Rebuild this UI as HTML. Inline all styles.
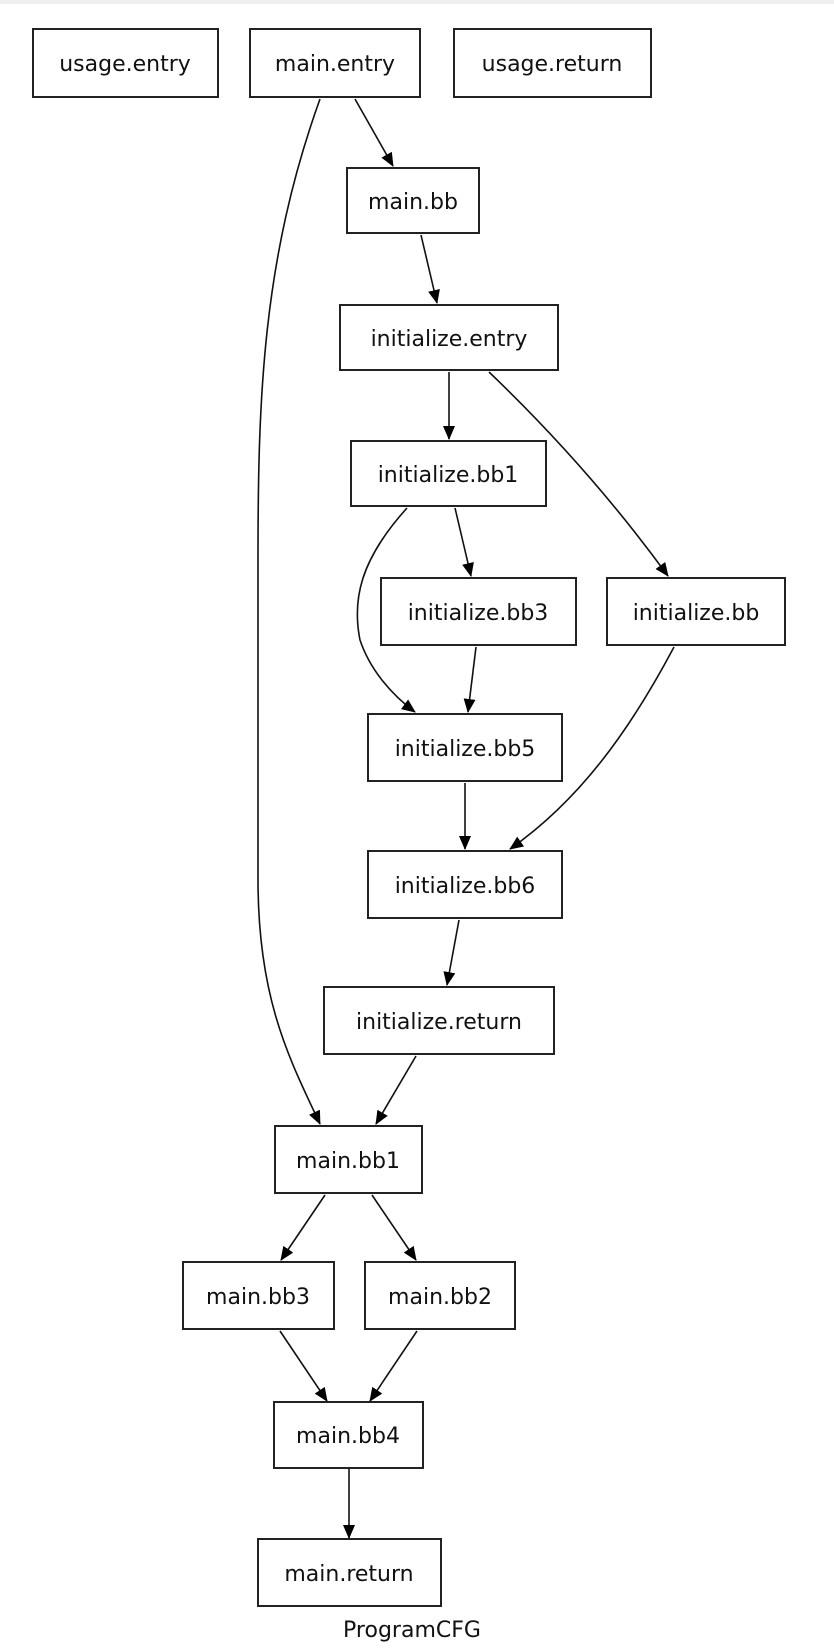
<!DOCTYPE html>
<html><head><meta charset="utf-8"><style>
html,body{margin:0;padding:0;background:#fff;}
svg{display:block;}
text{font-family:"DejaVu Sans","Liberation Sans",sans-serif;font-size:22px;fill:#111;text-anchor:middle;}
rect{fill:#fff;stroke:#222;stroke-width:2;}
path.e{fill:none;stroke:#111;stroke-width:1.6;}
</style></head><body>
<svg width="834" height="1648" viewBox="0 0 834 1648">
<defs><marker id="a" markerWidth="14" markerHeight="12" refX="13" refY="6" orient="auto" markerUnits="userSpaceOnUse"><path d="M0,0 L14,6 L0,12 Z" fill="#000"/></marker></defs>
<rect x="0" y="0" width="834" height="4" style="fill:#eeeeee;stroke:none"/>
<g>
<path class="e" marker-end="url(#a)" d="M355,99 L393,166"/>
<path class="e" marker-end="url(#a)" d="M320,99 C262,260 258,400 258,560 L258,880 C258,1000 290,1060 320,1124"/>
<path class="e" marker-end="url(#a)" d="M421,235 L437,303"/>
<path class="e" marker-end="url(#a)" d="M449,372 L449,439"/>
<path class="e" marker-end="url(#a)" d="M489,372 C560,440 620,510 668,576"/>
<path class="e" marker-end="url(#a)" d="M455,508 L471,576"/>
<path class="e" marker-end="url(#a)" d="M407,508 C360,560 352,600 360,640 C370,670 392,695 415,712"/>
<path class="e" marker-end="url(#a)" d="M476,647 L468,712"/>
<path class="e" marker-end="url(#a)" d="M465,783 L465,849"/>
<path class="e" marker-end="url(#a)" d="M674,647 C630,730 580,800 510,849"/>
<path class="e" marker-end="url(#a)" d="M459,920 L447,985"/>
<path class="e" marker-end="url(#a)" d="M416,1056 L376,1124"/>
<path class="e" marker-end="url(#a)" d="M325,1195 L281,1260"/>
<path class="e" marker-end="url(#a)" d="M372,1195 L416,1260"/>
<path class="e" marker-end="url(#a)" d="M280,1331 L327,1401"/>
<path class="e" marker-end="url(#a)" d="M417,1331 L370,1401"/>
<path class="e" marker-end="url(#a)" d="M349,1469 L349,1538"/>
</g>
<rect x="33" y="29" width="185" height="68"/><text x="125" y="71">usage.entry</text>
<rect x="250" y="29" width="170" height="68"/><text x="335" y="71">main.entry</text>
<rect x="454" y="29" width="197" height="68"/><text x="552" y="71">usage.return</text>
<rect x="347" y="168" width="132" height="65"/><text x="413" y="209">main.bb</text>
<rect x="340" y="305" width="218" height="65"/><text x="449" y="346">initialize.entry</text>
<rect x="351" y="441" width="195" height="65"/><text x="448" y="482">initialize.bb1</text>
<rect x="381" y="578" width="195" height="67"/><text x="478" y="620">initialize.bb3</text>
<rect x="607" y="578" width="178" height="67"/><text x="696" y="620">initialize.bb</text>
<rect x="368" y="714" width="194" height="67"/><text x="465" y="756">initialize.bb5</text>
<rect x="368" y="851" width="194" height="67"/><text x="465" y="893">initialize.bb6</text>
<rect x="324" y="987" width="230" height="67"/><text x="439" y="1029">initialize.return</text>
<rect x="275" y="1126" width="147" height="67"/><text x="348" y="1168">main.bb1</text>
<rect x="183" y="1262" width="151" height="67"/><text x="258" y="1304">main.bb3</text>
<rect x="365" y="1262" width="150" height="67"/><text x="440" y="1304">main.bb2</text>
<rect x="274" y="1402" width="149" height="66"/><text x="348" y="1443">main.bb4</text>
<rect x="258" y="1539" width="183" height="67"/><text x="349" y="1581">main.return</text>
<text x="412" y="1637">ProgramCFG</text>
</svg>
</body></html>
